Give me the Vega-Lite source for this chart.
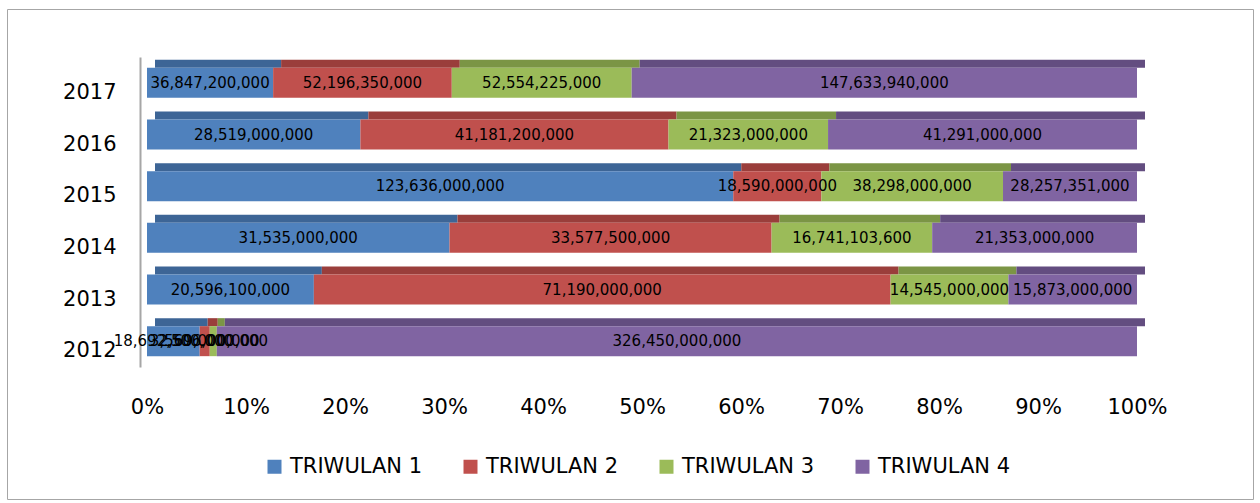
{
  "$schema": "https://vega.github.io/schema/vega-lite/v6.json",
  "width": 1246,
  "height": 490,
  "autosize": {"type": "none"},
  "padding": {"left": 7, "top": 9, "right": 7, "bottom": 4},
  "background": "white",
  "config": {
    "view": {"stroke": "#a6a6a6", "strokeWidth": 1},
    "font": "DejaVu Sans"
  },
  "data": {
    "values": [
      {"year": "2017", "q": "TRIWULAN 1", "value": 36847200000},
      {"year": "2017", "q": "TRIWULAN 2", "value": 52196350000},
      {"year": "2017", "q": "TRIWULAN 3", "value": 52554225000},
      {"year": "2017", "q": "TRIWULAN 4", "value": 147633940000},
      {"year": "2016", "q": "TRIWULAN 1", "value": 28519000000},
      {"year": "2016", "q": "TRIWULAN 2", "value": 41181200000},
      {"year": "2016", "q": "TRIWULAN 3", "value": 21323000000},
      {"year": "2016", "q": "TRIWULAN 4", "value": 41291000000},
      {"year": "2015", "q": "TRIWULAN 1", "value": 123636000000},
      {"year": "2015", "q": "TRIWULAN 2", "value": 18590000000},
      {"year": "2015", "q": "TRIWULAN 3", "value": 38298000000},
      {"year": "2015", "q": "TRIWULAN 4", "value": 28257351000},
      {"year": "2014", "q": "TRIWULAN 1", "value": 31535000000},
      {"year": "2014", "q": "TRIWULAN 2", "value": 33577500000},
      {"year": "2014", "q": "TRIWULAN 3", "value": 16741103600},
      {"year": "2014", "q": "TRIWULAN 4", "value": 21353000000},
      {"year": "2013", "q": "TRIWULAN 1", "value": 20596100000},
      {"year": "2013", "q": "TRIWULAN 2", "value": 71190000000},
      {"year": "2013", "q": "TRIWULAN 3", "value": 14545000000},
      {"year": "2013", "q": "TRIWULAN 4", "value": 15873000000},
      {"year": "2012", "q": "TRIWULAN 1", "value": 18692500000},
      {"year": "2012", "q": "TRIWULAN 2", "value": 3569000000},
      {"year": "2012", "q": "TRIWULAN 3", "value": 2506000000},
      {"year": "2012", "q": "TRIWULAN 4", "value": 326450000000}
    ]
  },
  "encoding": {
    "y": {
      "field": "year",
      "type": "ordinal",
      "sort": "descending",
      "scale": {"range": [48, 358], "paddingInner": 0.42, "paddingOuter": 0.21},
      "axis": {
        "title": null,
        "offset": -133,
        "domainColor": "#a6a6a6",
        "domainWidth": 2,
        "ticks": false,
        "labelPadding": 24,
        "labelOffset": 10,
        "labelFontSize": 21,
        "labelColor": "#000000",
        "labelFont": "DejaVu Sans"
      }
    }
  },
  "layer": [
    {
      "mark": {"type": "bar", "height": 8, "yOffset": -19, "xOffset": 8},
      "encoding": {
        "x": {
          "field": "value",
          "type": "quantitative",
          "stack": "normalize",
          "scale": {"domain": [0, 1], "range": [140, 1130]},
          "axis": {
            "title": null,
            "format": ".0%",
            "offset": -132,
            "domain": false,
            "ticks": false,
            "grid": false,
            "values": [0, 0.1, 0.2, 0.3, 0.4, 0.5, 0.6, 0.7, 0.8, 0.9, 1],
            "labelPadding": 29,
            "labelFontSize": 21,
            "labelColor": "#000000",
            "labelFont": "DejaVu Sans",
            "labelFlush": false
          }
        },
        "order": {"field": "q", "type": "nominal"},
        "color": {
          "field": "q",
          "type": "nominal",
          "scale": {"domain": ["TRIWULAN 1", "TRIWULAN 2", "TRIWULAN 3", "TRIWULAN 4"], "range": ["#3d6596", "#9a3e3b", "#7b9545", "#634d80"]},
          "legend": null
        }
      }
    },
    {
      "mark": {"type": "bar", "height": 30},
      "encoding": {
        "x": {
          "field": "value",
          "type": "quantitative",
          "stack": "normalize",
          "scale": {"domain": [0, 1], "range": [140, 1130]},
          "axis": {
            "title": null,
            "format": ".0%",
            "offset": -132,
            "domain": false,
            "ticks": false,
            "grid": false,
            "values": [0, 0.1, 0.2, 0.3, 0.4, 0.5, 0.6, 0.7, 0.8, 0.9, 1],
            "labelPadding": 29,
            "labelFontSize": 21,
            "labelColor": "#000000",
            "labelFont": "DejaVu Sans",
            "labelFlush": false
          }
        },
        "order": {"field": "q", "type": "nominal"},
        "color": {
          "field": "q",
          "type": "nominal",
          "scale": {"domain": ["TRIWULAN 1", "TRIWULAN 2", "TRIWULAN 3", "TRIWULAN 4"], "range": ["#4f81bd", "#c0504d", "#9bbb59", "#8064a2"]},
          "legend": {
            "title": null,
            "orient": "none",
            "legendX": 257,
            "legendY": 447,
            "direction": "horizontal",
            "columns": 4,
            "columnPadding": 37,
            "symbolType": "square",
            "symbolSize": 196,
            "symbolStrokeWidth": 0,
            "symbolOpacity": 1,
            "labelFontSize": 21,
            "labelFont": "DejaVu Sans",
            "labelColor": "#000000",
            "labelOffset": 5,
            "padding": 0
          }
        }
      }
    },
    {
      "mark": {"type": "text", "fontSize": 15, "font": "DejaVu Sans", "color": "#000000", "baseline": "middle", "align": "center"},
      "encoding": {
        "x": {
          "field": "value",
          "type": "quantitative",
          "stack": "normalize",
          "bandPosition": 0.5,
          "scale": {"domain": [0, 1], "range": [140, 1130]},
          "axis": {
            "title": null,
            "format": ".0%",
            "offset": -132,
            "domain": false,
            "ticks": false,
            "grid": false,
            "values": [0, 0.1, 0.2, 0.3, 0.4, 0.5, 0.6, 0.7, 0.8, 0.9, 1],
            "labelPadding": 29,
            "labelFontSize": 21,
            "labelColor": "#000000",
            "labelFont": "DejaVu Sans",
            "labelFlush": false
          }
        },
        "detail": {"field": "q", "type": "nominal"},
        "order": {"field": "q", "type": "nominal"},
        "text": {"field": "value", "type": "quantitative", "format": ",.0f"}
      }
    }
  ],
  "resolve": {"scale": {"color": "independent"}}
}
